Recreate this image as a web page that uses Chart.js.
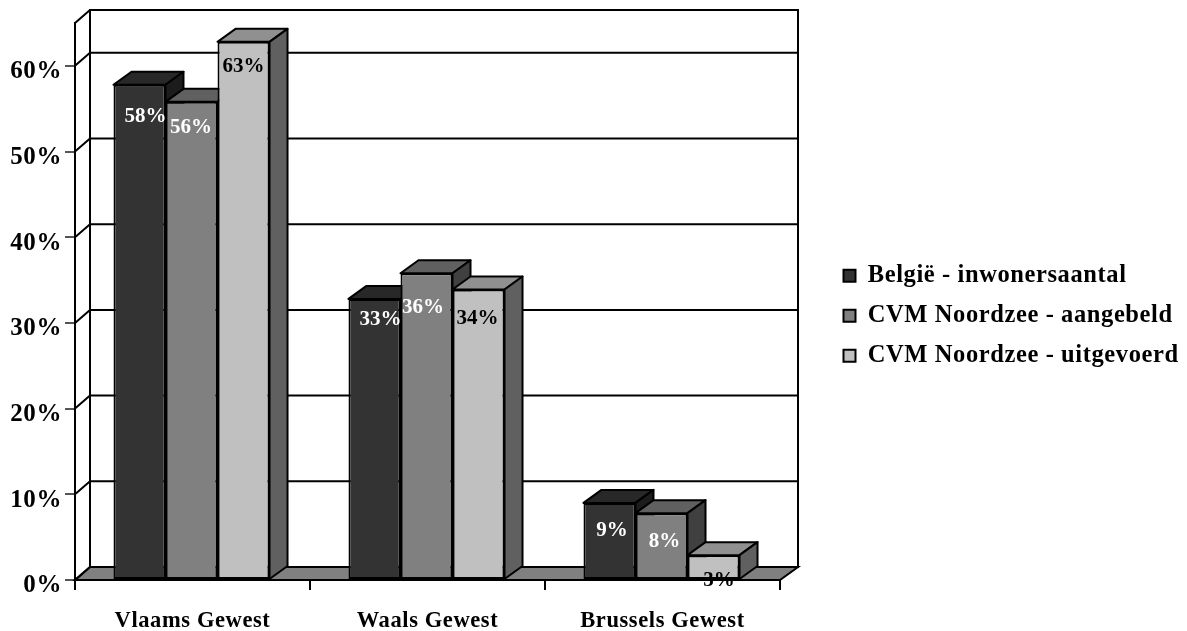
<!DOCTYPE html>
<html>
<head>
<meta charset="utf-8">
<title>Chart</title>
<script src="https://cdn.jsdelivr.net/npm/chart.js@4"></script>
<style>
    html, body { margin: 0; padding: 0; background: #fff; }
    canvas { display: block; }
</style>
</head>
<body>
<canvas id="regionChart" width="1187" height="631"></canvas>
<script>
const categories = ['Vlaams Gewest', 'Waals Gewest', 'Brussels Gewest'];
const seriesNames = ['België - inwonersaantal', 'CVM Noordzee - aangebeld', 'CVM Noordzee - uitgevoerd'];
const belgie = [57.8, 32.8, 9.0];
const aangebeld = [55.8, 35.8, 7.8];
const uitgevoerd = [62.8, 33.9, 2.9];
const yMax = 65;

// styling for the fake 3D look
const FONT = '"Liberation Serif", "Times New Roman", serif';
const frontColors = ['#333333', '#808080', '#c0c0c0'];
const topColors = ['#282828', '#606060', '#909090'];
const sideColors = ['#1c1c1c', '#404040', '#606060'];
const labelColors = ['#ffffff', '#ffffff', '#000000'];
const DEPTH_X = 18;
const DEPTH_Y = 13;
const WALL_X = 15;
const BAR_SHIFT = -1;

// the data labels are not placed regularly in the original
const labelDx = [[6, 6, 2.5], [-0.5, -3.5, 3], [0, -1, 5.5]];
const labelDy = [[32, 21, 28], [26, 34, 28], [25, 29, 25]];

function polygon(ctx, points, fill) {
    ctx.beginPath();
    points.forEach((p, i) => (i ? ctx.lineTo(p[0], p[1]) : ctx.moveTo(p[0], p[1])));
    ctx.closePath();
    if (fill) {
        ctx.fillStyle = fill;
        ctx.fill();
    }
    ctx.stroke();
}

function drawWall(chart) {
    const { ctx, chartArea: area, scales } = chart;
    const backLeft = area.left + WALL_X;
    const backRight = area.right + DEPTH_X;
    const backTop = area.top - DEPTH_Y;
    const backBottom = area.bottom - DEPTH_Y;

    ctx.save();
    ctx.strokeStyle = '#000000';
    ctx.lineWidth = 2;

    polygon(ctx, [
        [area.left, area.bottom], [backLeft, backBottom],
        [backRight, backBottom], [area.right, area.bottom]
    ], '#808080');

    polygon(ctx, [
        [backLeft, backBottom], [backLeft, backTop],
        [backRight, backTop], [backRight, backBottom]
    ]);

    // grid on the back wall, with the step along the left wall
    const yTicks = scales.y.ticks.map(t => t.value).concat(yMax);
    yTicks.forEach(value => {
        const y = scales.y.getPixelForValue(value);
        ctx.beginPath();
        ctx.moveTo(area.left, y);
        ctx.lineTo(backLeft, y - DEPTH_Y);
        if (value !== 0 && value !== yMax) {
            ctx.lineTo(backRight, y - DEPTH_Y);
        }
        ctx.stroke();
    });
    ctx.restore();
}

function drawBarSides(ctx, meta, i) {
    ctx.save();
    ctx.strokeStyle = '#000000';
    ctx.lineWidth = 2;
    ctx.lineJoin = 'round';
    meta.data.forEach(bar => {
        const left = bar.x - bar.width / 2;
        const right = bar.x + bar.width / 2;
        polygon(ctx, [
            [left, bar.y], [left + DEPTH_X, bar.y - DEPTH_Y],
            [right + DEPTH_X, bar.y - DEPTH_Y], [right, bar.y]
        ], topColors[i]);
        polygon(ctx, [
            [right, bar.y], [right + DEPTH_X, bar.y - DEPTH_Y],
            [right + DEPTH_X, bar.base - DEPTH_Y], [right, bar.base]
        ], sideColors[i]);
    });
    ctx.restore();
}

const wallPlugin = {
    id: 'wall',
    beforeDraw(chart) {
        // the original text is a bit wider than Liberation Serif
        chart.ctx.letterSpacing = '0.6px';
    },
    beforeDatasetsDraw(chart) {
        drawWall(chart);
        const { ctx } = chart;
        ctx.save();
        ctx.translate(BAR_SHIFT, 0);
        // left to right, so each bar covers the side of the one before it
        chart.data.datasets.forEach((ds, i) => {
            const meta = chart.getDatasetMeta(i);
            drawBarSides(ctx, meta, i);
            meta.controller.draw();
        });
        ctx.restore();
    },
    beforeDatasetDraw() {
        return false;
    },
    afterDatasetsDraw(chart) {
        const { ctx } = chart;
        ctx.save();
        ctx.translate(BAR_SHIFT, 0);
        ctx.letterSpacing = '0px';
        ctx.font = 'bold 21px ' + FONT;
        ctx.textAlign = 'center';
        ctx.textBaseline = 'middle';
        chart.data.datasets.forEach((ds, i) => {
            ctx.fillStyle = labelColors[i];
            chart.getDatasetMeta(i).data.forEach((bar, j) => {
                ctx.fillText(Math.round(ds.data[j]) + '%', bar.x + labelDx[i][j], bar.y + labelDy[i][j]);
            });
        });
        ctx.restore();
    },
    afterLayout(chart) {
        // legend sits in its own spot to the right of the plot
        const legend = chart.legend;
        const h = legend.height;
        legend.left = 828;
        legend.right = chart.width;
        legend.top = 248;
        legend.bottom = legend.top + h;
    }
};

function makeDataset(index, values) {
    return {
        label: seriesNames[index],
        data: values,
        backgroundColor: frontColors[index],
        borderColor: '#000000',
        borderWidth: 2,
        borderSkipped: false,
        barPercentage: 1,
        categoryPercentage: 0.664
    };
}

new Chart(document.getElementById('regionChart'), {
    type: 'bar',
    data: {
        labels: categories,
        datasets: [makeDataset(0, belgie), makeDataset(1, aangebeld), makeDataset(2, uitgevoerd)]
    },
    plugins: [wallPlugin],
    options: {
        responsive: false,
        animation: false,
        layout: { padding: { top: 23, right: 407, left: 0, bottom: 0 } },
        plugins: {
            title: { display: false },
            tooltip: { enabled: false },
            legend: {
                position: 'chartArea',
                align: 'start',
                labels: {
                    boxWidth: 12,
                    boxHeight: 12,
                    padding: 15.5,
                    color: '#000000',
                    font: { family: FONT, weight: 'bold', size: 24.5 }
                }
            }
        },
        scales: {
            x: {
                afterFit(scale) { scale.height = 51; },
                border: { color: '#000000', width: 2 },
                grid: { drawOnChartArea: false, drawTicks: true, tickLength: 10, color: '#000000', lineWidth: 2 },
                ticks: {
                    color: '#000000',
                    padding: 18,
                    maxRotation: 0,
                    font: { family: FONT, weight: 'bold', size: 22.5 }
                }
            },
            y: {
                min: 0,
                max: yMax,
                afterFit(scale) { scale.width = 75; },
                border: { color: '#000000', width: 2 },
                grid: { drawOnChartArea: false, drawTicks: true, tickLength: 10, color: '#555555', lineWidth: 2 },
                ticks: {
                    stepSize: 10,
                    includeBounds: false,
                    color: '#000000',
                    padding: 3,
                    labelOffset: 6,
                    font: { family: FONT, weight: 'bold', size: 25 },
                    callback: value => value + '%'
                }
            }
        }
    }
});
</script>
</body>
</html>
